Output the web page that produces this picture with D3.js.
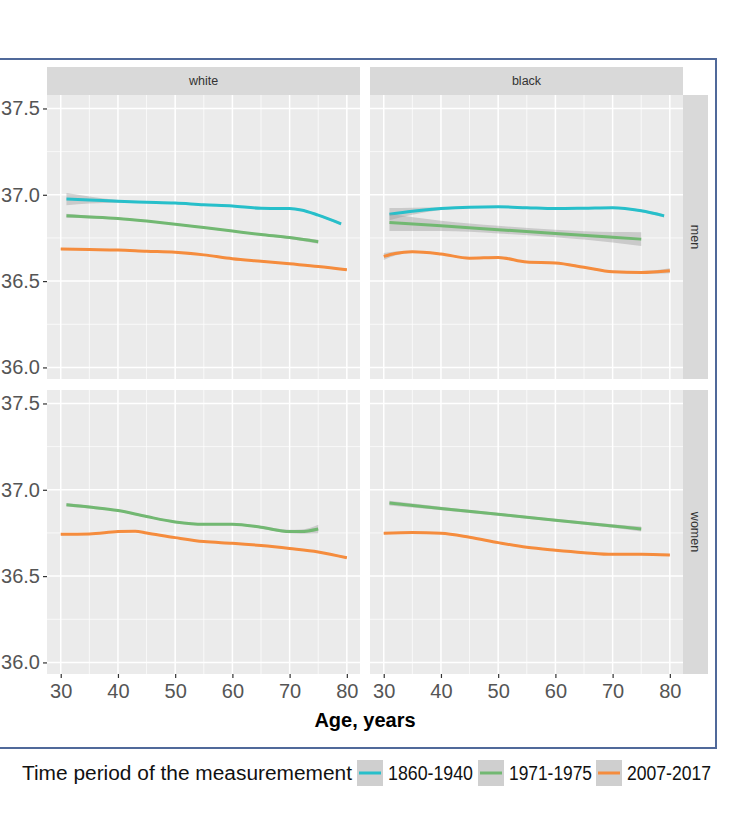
<!DOCTYPE html>
<html><head><meta charset="utf-8">
<script src="https://cdn.jsdelivr.net/npm/d3@7"></script>
<style>body{margin:0;background:#fff}svg{display:block}</style>
</head><body>
<script>
// ---- data ----
const columns = ["white", "black"];
const rows = ["men", "women"];
const periods = ["1860-1940", "1971-1975", "2007-2017"];
const legendTitle = "Time period of the measuremement";
const colors = ["#27bfca", "#72b872", "#f58c3d"];
const xTicks = [30, 40, 50, 60, 70, 80];
const yTicks = [36.0, 36.5, 37.0, 37.5];

// white men
const wm1860Age = [31, 35, 40, 45, 50, 55, 60, 65, 70, 72, 75, 79];
const wm1860 = [36.975, 36.97, 36.962, 36.957, 36.952, 36.942, 36.935, 36.922, 36.92, 36.912, 36.882, 36.832];
const wm1860Se = [0.035, 0.02, 0.008, 0.005, 0.005, 0.005, 0.005, 0.005, 0.005, 0.005, 0.006, 0.008];
const wm1971Age = [31, 35, 40, 45, 50, 55, 60, 65, 70, 75];
const wm1971 = [36.878, 36.872, 36.863, 36.848, 36.83, 36.81, 36.79, 36.77, 36.752, 36.728];
const wm1971Se = [0.012, 0.008, 0.006, 0.005, 0.005, 0.005, 0.005, 0.006, 0.008, 0.012];
const wm2007Age = [30, 35, 40, 45, 50, 55, 60, 65, 70, 75, 80];
const wm2007 = [36.686, 36.683, 36.68, 36.673, 36.667, 36.652, 36.63, 36.615, 36.6, 36.585, 36.566];
const wm2007Se = [0.005, 0.004, 0.004, 0.004, 0.004, 0.004, 0.004, 0.004, 0.004, 0.004, 0.006];

// black men
const bm1860Age = [31, 35, 40, 45, 50, 55, 60, 65, 70, 75, 79];
const bm1860 = [36.888, 36.905, 36.92, 36.928, 36.93, 36.925, 36.92, 36.922, 36.925, 36.907, 36.878];
const bm1860Se = [0.035, 0.02, 0.008, 0.005, 0.005, 0.005, 0.005, 0.005, 0.005, 0.006, 0.01];
const bm1971Age = [31, 40, 50, 60, 70, 75];
const bm1971 = [36.84, 36.82, 36.798, 36.776, 36.754, 36.743];
const bm1971Se = [0.05, 0.03, 0.022, 0.022, 0.03, 0.04];
const bm2007Age = [30, 32, 35, 40, 45, 50, 55, 60, 65, 70, 75, 80];
const bm2007 = [36.643, 36.66, 36.67, 36.657, 36.633, 36.637, 36.61, 36.605, 36.58, 36.554, 36.55, 36.56];
const bm2007Se = [0.02, 0.012, 0.006, 0.005, 0.005, 0.005, 0.005, 0.005, 0.005, 0.006, 0.008, 0.014];

// white women
const ww1971Age = [31, 35, 40, 45, 50, 55, 60, 65, 70, 72, 75];
const ww1971 = [36.913, 36.9, 36.88, 36.845, 36.814, 36.8, 36.8, 36.783, 36.758, 36.758, 36.773];
const ww1971Se = [0.01, 0.008, 0.006, 0.006, 0.006, 0.006, 0.006, 0.007, 0.01, 0.012, 0.025];
const ww2007Age = [30, 35, 40, 43, 45, 50, 55, 60, 65, 70, 75, 80];
const ww2007 = [36.742, 36.744, 36.758, 36.76, 36.75, 36.723, 36.7, 36.69, 36.677, 36.66, 36.64, 36.606];
const ww2007Se = [0.005, 0.004, 0.004, 0.004, 0.004, 0.004, 0.004, 0.004, 0.004, 0.004, 0.004, 0.006];

// black women
const bw1971Age = [31, 40, 50, 60, 70, 75];
const bw1971 = [36.923, 36.892, 36.858, 36.824, 36.79, 36.773];
const bw1971Se = [0.014, 0.01, 0.008, 0.008, 0.01, 0.014];
const bw2007Age = [30, 35, 40, 45, 50, 55, 60, 65, 70, 75, 80];
const bw2007 = [36.748, 36.752, 36.748, 36.725, 36.694, 36.667, 36.65, 36.636, 36.626, 36.626, 36.622];
const bw2007Se = [0.005, 0.004, 0.004, 0.004, 0.004, 0.004, 0.004, 0.004, 0.004, 0.004, 0.006];

const panelData = [
  { col: 0, row: 0, lines: [[0, wm1860Age, wm1860, wm1860Se], [1, wm1971Age, wm1971, wm1971Se], [2, wm2007Age, wm2007, wm2007Se]] },
  { col: 1, row: 0, lines: [[0, bm1860Age, bm1860, bm1860Se], [1, bm1971Age, bm1971, bm1971Se], [2, bm2007Age, bm2007, bm2007Se]] },
  { col: 0, row: 1, lines: [[1, ww1971Age, ww1971, ww1971Se], [2, ww2007Age, ww2007, ww2007Se]] },
  { col: 1, row: 1, lines: [[1, bw1971Age, bw1971, bw1971Se], [2, bw2007Age, bw2007, bw2007Se]] }
];

// ---- layout ----
const W = 752, H = 838;
const svg = d3.select("body").append("svg").attr("width", W).attr("height", H)
  .style("font-family", "'Liberation Sans', Arial, sans-serif");

// frame
svg.append("rect").attr("x", -3).attr("y", 59).attr("width", 719).attr("height", 689)
  .attr("fill", "none").attr("stroke", "#50699a").attr("stroke-width", 2);

const colX = [47, 370], panelW = 313;
const rowY = [95, 390], panelH = 284;
const x = colX.map(x0 => d3.scaleLinear().domain([27.6, 82.3]).range([x0, x0 + panelW]));
const y = rowY.map(y0 => d3.scaleLinear().domain([35.933, 37.578]).range([y0 + panelH, y0]));

const minorX = [35, 45, 55, 65, 75];
const minorY = [36.25, 36.75, 37.25];

panelData.forEach(p => {
  const xs = x[p.col], ys = y[p.row];
  const g = svg.append("g");
  g.append("rect").attr("x", colX[p.col]).attr("y", rowY[p.row]).attr("width", panelW).attr("height", panelH).attr("fill", "#ebebeb");
  g.selectAll(".mx").data(minorX).join("line").attr("x1", d => xs(d)).attr("x2", d => xs(d))
    .attr("y1", rowY[p.row]).attr("y2", rowY[p.row] + panelH).attr("stroke", "#fff").attr("stroke-width", 0.7);
  g.selectAll(".my").data(minorY).join("line").attr("y1", d => ys(d)).attr("y2", d => ys(d))
    .attr("x1", colX[p.col]).attr("x2", colX[p.col] + panelW).attr("stroke", "#fff").attr("stroke-width", 0.7);
  g.selectAll(".Mx").data(xTicks).join("line").attr("x1", d => xs(d)).attr("x2", d => xs(d))
    .attr("y1", rowY[p.row]).attr("y2", rowY[p.row] + panelH).attr("stroke", "#fff").attr("stroke-width", 1.5);
  g.selectAll(".My").data(yTicks).join("line").attr("y1", d => ys(d)).attr("y2", d => ys(d))
    .attr("x1", colX[p.col]).attr("x2", colX[p.col] + panelW).attr("stroke", "#fff").attr("stroke-width", 1.5);

  p.lines.forEach(([k, ages, vals, se]) => {
    const pts = ages.map((a, i) => ({ a, v: vals[i], s: se[i] }));
    const area = d3.area().curve(d3.curveMonotoneX).x(d => xs(d.a)).y0(d => ys(d.v - d.s)).y1(d => ys(d.v + d.s));
    g.append("path").attr("d", area(pts)).attr("fill", "#999").attr("fill-opacity", 0.4);
    const line = d3.line().curve(d3.curveMonotoneX).x(d => xs(d.a)).y(d => ys(d.v));
    g.append("path").attr("d", line(pts)).attr("fill", "none").attr("stroke", colors[k]).attr("stroke-width", 3);
  });
});

// strips top
columns.forEach((c, i) => {
  svg.append("rect").attr("x", colX[i]).attr("y", 67).attr("width", panelW).attr("height", 28).attr("fill", "#d9d9d9");
  svg.append("text").attr("x", colX[i] + panelW / 2).attr("y", 81).attr("dy", "0.35em")
    .attr("text-anchor", "middle").attr("font-size", 12.5).attr("fill", "#333").text(c);
});
// strips right
rows.forEach((r, i) => {
  svg.append("rect").attr("x", colX[1] + panelW).attr("y", rowY[i]).attr("width", 25).attr("height", panelH).attr("fill", "#d9d9d9");
  const cx = colX[1] + panelW + 12.5, cy = rowY[i] + panelH / 2;
  svg.append("text").attr("transform", `translate(${cx},${cy}) rotate(90)`).attr("dy", "0.35em")
    .attr("text-anchor", "middle").attr("font-size", 12.5).attr("fill", "#333").text(r);
});

// y axes (left column only)
rows.forEach((r, i) => {
  const ax = svg.append("g").attr("transform", `translate(${colX[0]},0)`)
    .call(d3.axisLeft(y[i]).tickValues(yTicks).tickFormat(d3.format(".1f")).tickSize(4).tickPadding(3));
  ax.select(".domain").remove();
  ax.selectAll("line").attr("stroke", "#333").attr("stroke-width", 1.2);
  ax.selectAll("text").attr("font-size", 20).attr("fill", "#555").style("font-family", "'Liberation Sans', Arial, sans-serif");
});
// x axes (bottom row)
columns.forEach((c, i) => {
  const ax = svg.append("g").attr("transform", `translate(0,${rowY[1] + panelH})`)
    .call(d3.axisBottom(x[i]).tickValues(xTicks).tickSize(4).tickPadding(6));
  ax.select(".domain").remove();
  ax.selectAll("line").attr("stroke", "#333").attr("stroke-width", 1.2);
  ax.selectAll("text").attr("font-size", 20).attr("fill", "#555").style("font-family", "'Liberation Sans', Arial, sans-serif");
});

svg.append("text").attr("x", (colX[0] + colX[1] + panelW) / 2).attr("y", 727)
  .attr("text-anchor", "middle").attr("font-size", 20).attr("font-weight", "bold").attr("fill", "#000").text("Age, years");

// legend
const lg = svg.append("g").attr("transform", "translate(0,773)");
lg.append("text").attr("x", 22).attr("dy", "0.35em").attr("font-size", 20).attr("fill", "#111")
  .attr("textLength", 330).attr("lengthAdjust", "spacingAndGlyphs").text(legendTitle);
const keyX = [357, 478, 596];
const labW = [85, 83, 84];
periods.forEach((p, i) => {
  lg.append("rect").attr("x", keyX[i]).attr("y", -13).attr("width", 26).attr("height", 26).attr("fill", "#cfcfcf");
  lg.append("line").attr("x1", keyX[i] + 2).attr("x2", keyX[i] + 24).attr("y1", 0).attr("y2", 0)
    .attr("stroke", colors[i]).attr("stroke-width", 3);
  lg.append("text").attr("x", keyX[i] + 31).attr("dy", "0.35em").attr("font-size", 20).attr("fill", "#111")
    .attr("textLength", labW[i]).attr("lengthAdjust", "spacingAndGlyphs").text(p);
});
</script>
</body></html>
